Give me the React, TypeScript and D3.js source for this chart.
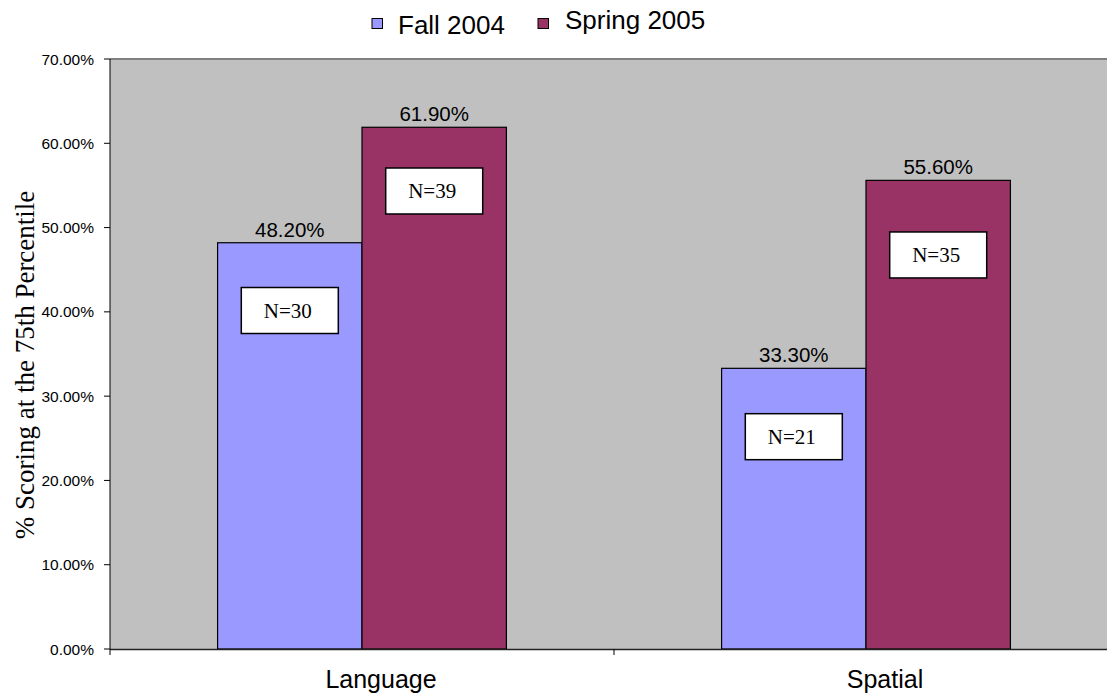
import React from "react";
import * as d3 from "d3";

const categories = ["Language", "Spatial"];
const seriesNames = ["Fall 2004", "Spring 2005"];
const fallValues = [0.482, 0.333];
const springValues = [0.619, 0.556];
const fallN = ["N=30", "N=21"];
const springN = ["N=39", "N=35"];
// vertical centre of each N box, in data units
const fallNPos = [0.4016, 0.2519];
const springNPos = [0.5434, 0.4675];
const yTicks = [0, 0.1, 0.2, 0.3, 0.4, 0.5, 0.6, 0.7];
const colors = ["#9999FF", "#993366"];

const W = 1107;
const H = 694;
const left = 110;
const top = 59;
const bottom = 649;
const plotRight = 1118;

export default function App() {
  const x = d3.scaleBand<string>().domain(categories).range([left, plotRight]);
  const inner = d3
    .scaleBand<string>()
    .domain(seriesNames)
    .range([0, x.bandwidth()])
    .paddingInner(0)
    .paddingOuter(0.745);
  const y = d3.scaleLinear().domain([0, 0.7]).range([bottom, top]);
  const fmt = d3.format(".2%");
  const series = [
    { name: seriesNames[0], values: fallValues, n: fallN, npos: fallNPos, color: colors[0] },
    { name: seriesNames[1], values: springValues, n: springN, npos: springNPos, color: colors[1] },
  ];
  const boxW = 97;
  const boxH = 46;

  return (
    <svg
      width={W}
      height={H}
      style={{ position: "absolute", left: 0, top: 0, background: "#fff" }}
      fontFamily="Arial, 'Liberation Sans', sans-serif"
    >
      <defs>
        <clipPath id="plotclip">
          <rect x={0} y={0} width={W} height={H} />
        </clipPath>
      </defs>
      {/* plot background */}
      <rect x={left} y={top} width={plotRight - left} height={bottom - top} fill="#C0C0C0" />
      <line x1={left} x2={W} y1={top} y2={top} stroke="#808080" strokeWidth={2} />

      {/* bars */}
      {series.map((s) =>
        categories.map((c, i) => {
          const bx = (x(c) as number) + (inner(s.name) as number);
          const bw = inner.bandwidth();
          const by = y(s.values[i]);
          const cx = bx + bw / 2;
          const ny = y(s.npos[i]);
          return (
            <g key={s.name + c}>
              <rect x={bx} y={by} width={bw} height={bottom - by} fill={s.color} stroke="#000" strokeWidth={1.2} />
              <text x={cx} y={by - 6} textAnchor="middle" fontSize={20.5} fill="#000">
                {fmt(s.values[i])}
              </text>
              <rect x={cx - boxW / 2} y={ny - boxH / 2} width={boxW} height={boxH} fill="#fff" stroke="#000" strokeWidth={1.5} />
              <text
                x={cx - 2}
                y={ny + 7.5}
                textAnchor="middle"
                fontSize={21}
                fontFamily="'Liberation Serif', 'Times New Roman', serif"
                fill="#000"
              >
                {s.n[i]}
              </text>
            </g>
          );
        })
      )}

      {/* y axis */}
      <line x1={left} x2={left} y1={top} y2={bottom} stroke="#000" strokeWidth={1} />
      {yTicks.map((t) => (
        <g key={t}>
          <line x1={left - 6} x2={left} y1={y(t)} y2={y(t)} stroke="#000" strokeWidth={1} />
          <text x={left - 16} y={y(t) + 5.5} textAnchor="end" fontSize={15.5} fill="#000">
            {fmt(t)}
          </text>
        </g>
      ))}

      {/* x axis */}
      <line x1={left} x2={W} y1={bottom + 0.5} y2={bottom + 0.5} stroke="#222" strokeWidth={1.5} />
      {[left, x(categories[1]) as number].map((v, i) => (
        <line key={i} x1={v} x2={v} y1={bottom} y2={bottom + 6} stroke="#000" strokeWidth={1} />
      ))}
      {categories.map((c) => (
        <text
          key={c}
          x={(x(c) as number) + x.bandwidth() / 2 + 19}
          y={688}
          textAnchor="middle"
          fontSize={25}
          fill="#000"
        >
          {c}
        </text>
      ))}

      {/* y title */}
      <text
        transform={`translate(34, 365) rotate(-90)`}
        textAnchor="middle"
        fontSize={27}
        fontFamily="'Liberation Serif', 'Times New Roman', serif"
        fill="#000"
      >
        % Scoring at the 75th Percentile
      </text>

      {/* legend */}
      <g>
        <rect x={372} y={18.5} width={10.5} height={10} fill={colors[0]} stroke="#000" strokeWidth={1} />
        <text x={398} y={33.5} fontSize={26} fill="#000">
          {seriesNames[0]}
        </text>
        <rect x={538} y={18.5} width={10.5} height={10} fill={colors[1]} stroke="#000" strokeWidth={1} />
        <text x={565} y={28.5} fontSize={26} fill="#000">
          {seriesNames[1]}
        </text>
      </g>
    </svg>
  );
}
